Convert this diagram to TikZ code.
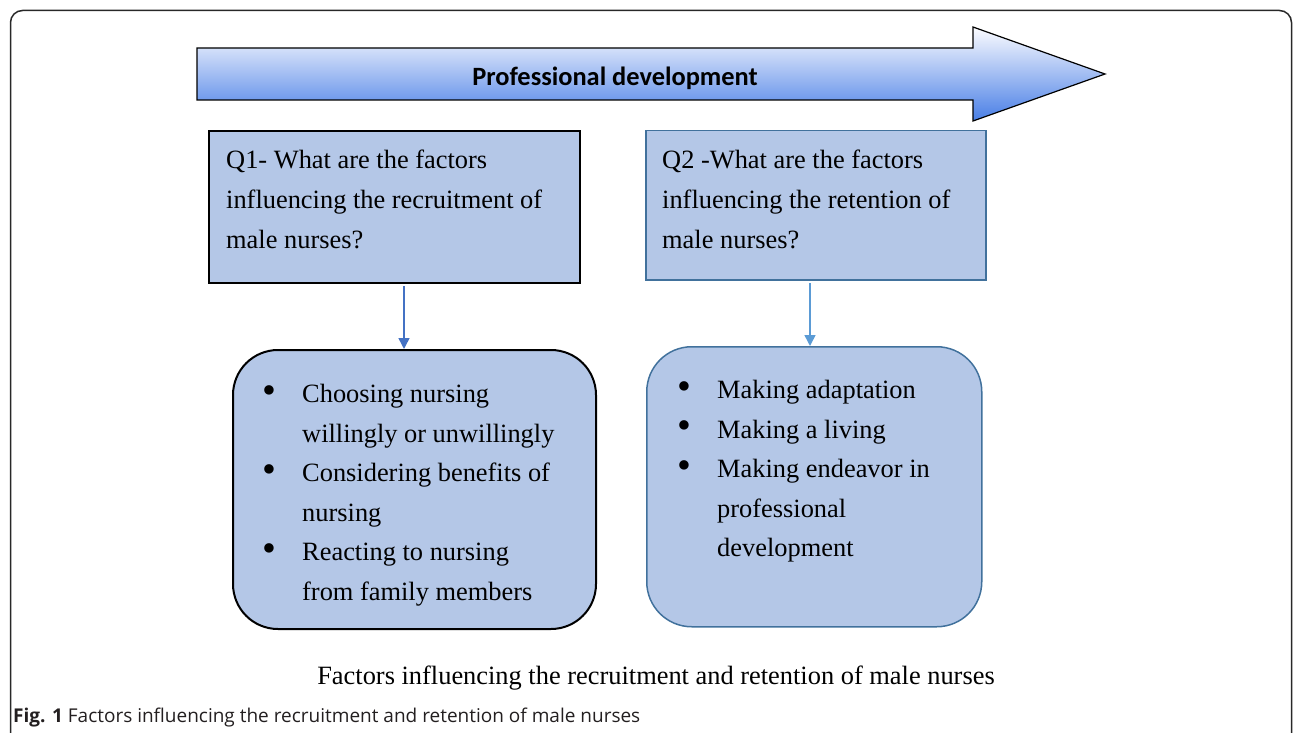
\documentclass[tikz,border=0pt]{standalone}
\usepackage{fontspec}
\setmainfont{Liberation Serif}
\newfontfamily\calfont{Carlito}
\newfontfamily\capfont{Open Sans}
\usetikzlibrary{arrows.meta}
\definecolor{boxfill}{RGB}{180,199,231}
\definecolor{edgeblue}{RGB}{65,113,156}
\definecolor{arrowA}{RGB}{68,114,196}
\definecolor{arrowB}{RGB}{91,155,213}
\definecolor{framegray}{RGB}{40,40,40}
\newcommand{\bigbul}{\raisebox{-0.5pt}{\scalebox{1.5}{\textbullet}}}
\tikzset{
  qbox/.style={draw, fill=boxfill, minimum width=#1, inner sep=0pt, anchor=north west},
  ansbox/.style={draw, fill=boxfill, rounded corners=45pt, inner sep=0pt, anchor=north west},
  bodytext/.style={anchor=north west, inner sep=0pt, align=left, font=\fontsize{26.4}{40}\selectfont},
  conn/.style={-{Triangle[length=11pt,width=11pt]}, line width=1.5pt}
}
\begin{document}
\begin{tikzpicture}[x=1pt,y=-1pt]
\useasboundingbox (0,0) rectangle (1293,733);
% outer frame
\draw[framegray, line width=1.5pt, rounded corners=12pt] (10.5,733) -- (10.5,10.5) -- (1291.5,10.5) -- (1291.5,733);
% big arrow
\shade[top color={rgb,255:red,252;green,252;blue,255}, bottom color={rgb,255:red,72;green,126;blue,230}, draw=black, line width=1.2pt]
  (197,48) -- (973,48) -- (973,27) -- (1105,74) -- (973,121) -- (973,100) -- (197,100) -- cycle;
\node[font=\calfont\bfseries\fontsize{26.4}{30}\selectfont, inner sep=0pt] (pd) at (615,78) {Professional development};
% question boxes
\node[qbox=371pt, minimum height=152pt, line width=2pt] (q1) at (208,130) {};
\node[qbox=340pt, minimum height=149pt, draw=edgeblue, line width=1.5pt] (q2) at (645,130) {};
\node[bodytext] (q1t) at (226,150) {Q1- What are the factors\\influencing the recruitment of\\male nurses?};
\node[bodytext] (q2t) at (662,150) {Q2 -What are the factors\\influencing the retention of\\male nurses?};
% answer boxes
\node[ansbox, minimum width=363pt, minimum height=279pt, line width=2pt] (a1) at (232,349) {};
\node[ansbox, minimum width=335pt, minimum height=280pt, draw=edgeblue, line width=1.5pt] (a2) at (646,346) {};
% connectors
\coordinate (s1) at (404,286);
\coordinate (s2) at (810,283);
\draw[conn, arrowA] (s1) -- (s1 |- a1.north);
\draw[conn, arrowB] (s2) -- (s2 |- a2.north);
% bullet texts
\node[bodytext, font=\fontsize{26.4}{39.5}\selectfont] (a1t) at (262,375) {%
\begin{tabular}{@{}p{40pt}@{}l@{}}
\bigbul & Choosing nursing\\
 & willingly or unwillingly\\
\bigbul & Considering benefits of\\
 & nursing\\
\bigbul & Reacting to nursing\\
 & from family members
\end{tabular}};
\node[bodytext, font=\fontsize{26.4}{39.5}\selectfont] (a2t) at (677,371) {%
\begin{tabular}{@{}p{40pt}@{}l@{}}
\bigbul & Making adaptation\\
\bigbul & Making a living\\
\bigbul & Making endeavor in\\
 & professional\\
 & development
\end{tabular}};
% captions
\node[font=\fontsize{26.4}{30}\selectfont, inner sep=0pt] (cap) at (656,678) {Factors influencing the recruitment and retention of male nurses};
\node[font=\capfont\fontsize{19}{22}\selectfont, anchor=west, inner sep=0pt, text={rgb,255:red,35;green,31;blue,32}] (fig) at (13,718) {\textbf{Fig. 1} Factors influencing the recruitment and retention of male nurses};
\end{tikzpicture}
\end{document}
